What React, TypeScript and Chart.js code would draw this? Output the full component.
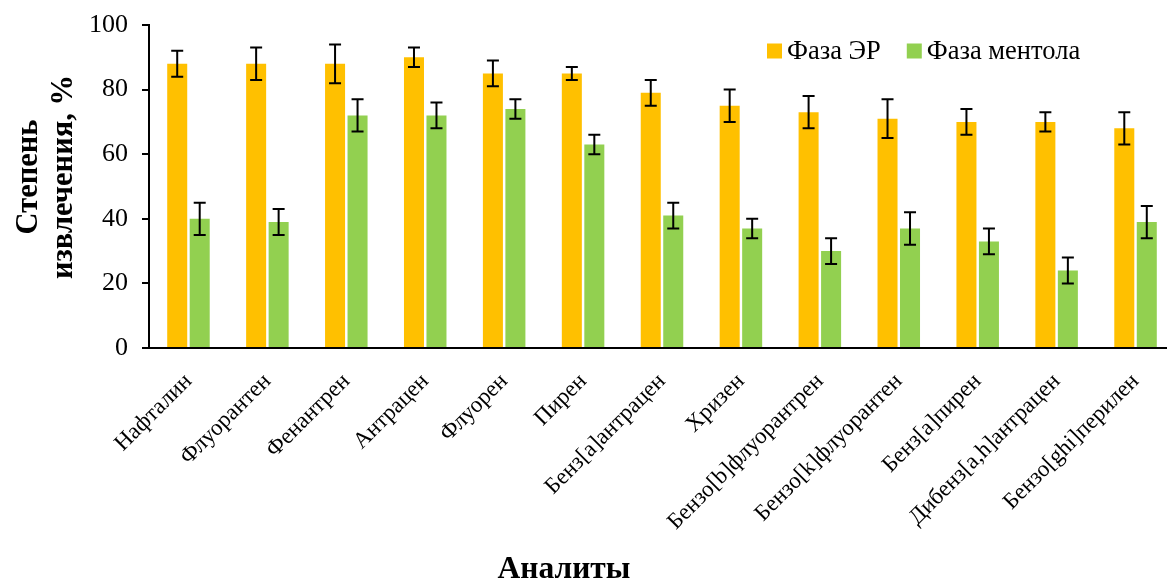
import React, { useEffect, useRef } from "react";
import { Chart, registerables } from "chart.js";

Chart.register(...registerables);

// Analytes (x-axis categories)
const categories = [
  "Нафталин",
  "Флуорантен",
  "Фенантрен",
  "Антрацен",
  "Флуорен",
  "Пирен",
  "Бенз[a]антрацен",
  "Хризен",
  "Бензо[b]флуорантрен",
  "Бензо[k]флуорантен",
  "Бенз[a]пирен",
  "Дибенз[a,h]антрацен",
  "Бензо[ghi]перилен",
];

// Extraction degree, %, and its uncertainty
const epValues = [88, 88, 88, 90, 85, 85, 79, 75, 73, 71, 70, 70, 68];
const epErrors = [4, 5, 6, 3, 4, 2, 4, 5, 5, 6, 4, 3, 5];
const mentholValues = [40, 39, 72, 72, 74, 63, 41, 37, 30, 37, 33, 24, 39];
const mentholErrors = [5, 4, 5, 4, 3, 3, 4, 3, 4, 5, 4, 4, 5];

const seriesLabels = ["Фаза ЭР", "Фаза ментола"];
const yTicks = [0, 20, 40, 60, 80, 100];
const yTitleLines = ["Степень", "извлечения, %"];
const xTitle = "Аналиты";

const SERIF = "'Liberation Serif', 'Times New Roman', serif";
const ORANGE = "#FFC000";
const GREEN = "#92D050";

const errorBarsPlugin = {
  id: "errorBars",
  afterDatasetsDraw(chart: any) {
    const { ctx } = chart;
    const yScale = chart.scales.y;
    chart.data.datasets.forEach((ds: any, di: number) => {
      const meta = chart.getDatasetMeta(di);
      const errs: number[] = ds.errors || [];
      meta.data.forEach((bar: any, i: number) => {
        const v = ds.data[i];
        const e = errs[i] ?? 0;
        const yHi = yScale.getPixelForValue(v + e);
        const yLo = yScale.getPixelForValue(v - e);
        const x = bar.x;
        const cap = 6;
        ctx.save();
        ctx.strokeStyle = "#000";
        ctx.lineWidth = 2;
        ctx.beginPath();
        ctx.moveTo(x, yHi);
        ctx.lineTo(x, yLo);
        ctx.moveTo(x - cap, yHi);
        ctx.lineTo(x + cap, yHi);
        ctx.moveTo(x - cap, yLo);
        ctx.lineTo(x + cap, yLo);
        ctx.stroke();
        ctx.restore();
      });
    });
  },
};

const legendPlugin = {
  id: "insideLegend",
  afterDraw(chart: any) {
    const { ctx } = chart;
    const box = 15;
    const gapText = 5;
    const gapItem = 26;
    let x = 767;
    const yMid = 51;
    ctx.save();
    ctx.font = `26.5px ${SERIF}`;
    ctx.textBaseline = "middle";
    ctx.textAlign = "left";
    chart.data.datasets.forEach((ds: any) => {
      ctx.fillStyle = ds.backgroundColor;
      ctx.fillRect(x, yMid - box / 2, box, box);
      x += box + gapText;
      ctx.fillStyle = "#000";
      ctx.fillText(ds.label, x, yMid + 1);
      x += ctx.measureText(ds.label).width + gapItem;
    });
    ctx.restore();
  },
};

// Axis titles, placed relative to the whole figure
const axisTitlesPlugin = {
  id: "axisTitles",
  afterDraw(chart: any) {
    const { ctx } = chart;
    ctx.save();
    ctx.fillStyle = "#000";
    ctx.textAlign = "center";
    ctx.textBaseline = "alphabetic";

    ctx.font = `bold 30.5px ${SERIF}`;
    const yCenter = 177;
    const baselines = [37, 72];
    yTitleLines.forEach((line, i) => {
      ctx.save();
      ctx.translate(baselines[i], yCenter);
      ctx.rotate(-Math.PI / 2);
      ctx.fillText(line, 0, 0);
      ctx.restore();
    });

    ctx.font = `bold 31.5px ${SERIF}`;
    ctx.fillText(xTitle, 564, 578);
    ctx.restore();
  },
};

export default function App() {
  const canvasRef = useRef<HTMLCanvasElement | null>(null);

  useEffect(() => {
    const canvas = canvasRef.current;
    if (!canvas) return;
    const chart = new Chart(canvas, {
      type: "bar",
      data: {
        labels: categories,
        datasets: [
          {
            label: seriesLabels[0],
            data: epValues,
            errors: epErrors,
            backgroundColor: ORANGE,
            barPercentage: 0.89,
            categoryPercentage: 0.57,
          } as any,
          {
            label: seriesLabels[1],
            data: mentholValues,
            errors: mentholErrors,
            backgroundColor: GREEN,
            barPercentage: 0.89,
            categoryPercentage: 0.57,
          } as any,
        ],
      },
      options: {
        responsive: false,
        animation: false,
        devicePixelRatio: 1,
        layout: { padding: { top: 25, right: 5, left: 0, bottom: 0 } },
        plugins: {
          legend: { display: false },
          tooltip: { enabled: false },
        },
        scales: {
          x: {
            grid: { display: false },
            border: { display: true, color: "#000", width: 2 },
            ticks: {
              color: "#000",
              font: { family: SERIF, size: 23 },
              minRotation: 45,
              maxRotation: 45,
              autoSkip: false,
              padding: 12,
            },
            afterFit(scale: any) {
              scale.height = 590 - 348;
            },
          },
          y: {
            min: 0,
            max: 100,
            afterBuildTicks(scale: any) {
              scale.ticks = yTicks.map((v) => ({ value: v }));
            },
            grid: {
              drawOnChartArea: false,
              drawTicks: true,
              tickLength: 7,
              color: "#000",
              lineWidth: 2,
            },
            border: { display: true, color: "#000", width: 2 },
            ticks: {
              color: "#000",
              font: { family: SERIF, size: 26 },
              padding: 14,
            },
            afterFit(scale: any) {
              scale.width = 149;
              scale.paddingTop = 0;
              scale.paddingBottom = 0;
            },
          },
        },
      },
      plugins: [errorBarsPlugin, legendPlugin, axisTitlesPlugin],
    });
    return () => chart.destroy();
  }, []);

  return (
    <div
      style={{
        position: "fixed",
        left: 0,
        top: 0,
        width: 1167,
        height: 580,
        overflow: "hidden",
        background: "#fff",
      }}
    >
      <canvas ref={canvasRef} width={1180} height={590} style={{ display: "block" }} />
    </div>
  );
}
